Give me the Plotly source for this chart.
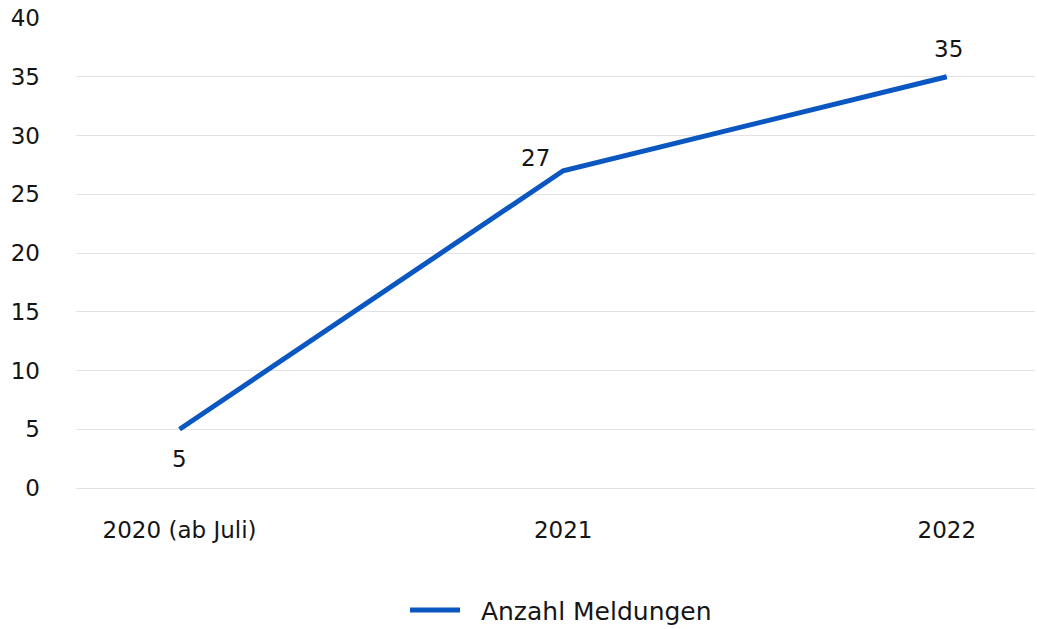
import plotly.graph_objects as go

categories = ["2020 (ab Juli)", "2021", "2022"]
meldungen = [5, 27, 35]
label_shifts = [(0, -30), (-28, 13), (2, 28)]
series_name = "Anzahl Meldungen"

FONT = "DejaVu Sans, sans-serif"
BLUE = "#0a57c2"
INK = "#151515"

fig = go.Figure()
fig.add_trace(go.Scatter(
    x=list(range(len(categories))), y=meldungen, mode="lines",
    name="\u00a0\u00a0" + series_name,
    line=dict(color=BLUE, width=5),
))

for i, (v, (dx, dy)) in enumerate(zip(meldungen, label_shifts)):
    fig.add_annotation(x=i, y=v, text=str(v), showarrow=False,
                       xshift=dx, yshift=dy,
                       font=dict(size=23, color=INK, family=FONT))

fig.update_layout(
    width=1037, height=629,
    margin=dict(l=76, r=2, t=18, b=141),
    paper_bgcolor="white", plot_bgcolor="white",
    font=dict(family=FONT, size=23, color=INK),
    showlegend=True,
    legend=dict(orientation="h", xref="container", yref="container",
                x=0.541, xanchor="center", y=0.03, yanchor="middle",
                itemwidth=50, font=dict(size=25, color=INK)),
    xaxis=dict(range=[-0.27, 2.23], tickmode="array",
               tickvals=list(range(len(categories))), ticktext=categories,
               showgrid=False, zeroline=False,
               showline=False, ticks="", ticklabelstandoff=26, automargin=False,
               tickfont=dict(size=23)),
    yaxis=dict(range=[0, 40], dtick=5, showgrid=True, gridcolor="#e3e3e3", gridwidth=1,
               zeroline=True, zerolinecolor="#e3e3e3", zerolinewidth=1, automargin=False,
               ticks="", ticklabelstandoff=35, tickfont=dict(size=23)),
)

fig.write_html(
    "out.html",
    config={"displayModeBar": False},
    post_script="document.body.style.margin='0';document.body.style.overflow='hidden';",
)
